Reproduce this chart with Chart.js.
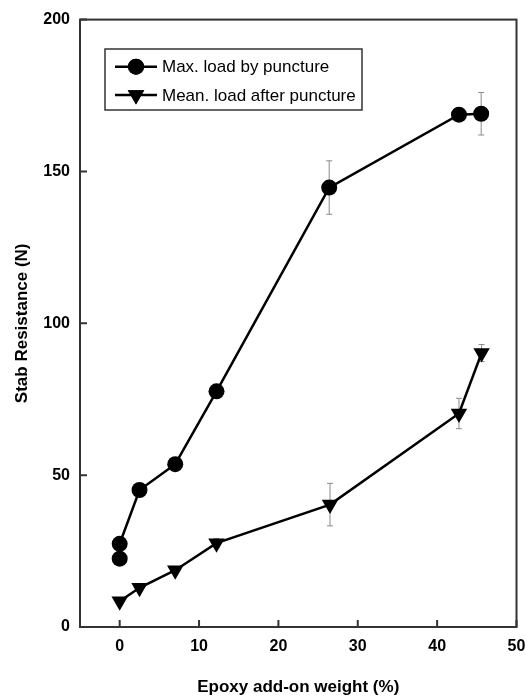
<!DOCTYPE html>
<html>
<head>
<meta charset="utf-8">
<script src="https://cdn.jsdelivr.net/npm/chart.js@4.4.1/dist/chart.umd.min.js"></script>
<style>
  html, body { margin: 0; padding: 0; background: #fff; overflow: hidden; }
  canvas { display: block; }
</style>
</head>
<body>
<canvas id="stabChart" width="526" height="698"></canvas>
<script>
// values
const maxLoadX = [0, 0, 2.5, 7.0, 12.2, 26.4, 42.75, 45.55];
const maxLoadY = [22.5, 27.4, 45.1, 53.6, 77.6, 144.7, 168.7, 169.0];
const maxLoadErr = [1, 1, 1, 1, 1.5, 8.8, 1.5, 7.0];

const afterX = [0, 2.5, 7.0, 12.2, 26.5, 42.75, 45.6];
const afterY = [8.5, 12.9, 18.7, 27.6, 40.3, 70.3, 90.2];
const afterErr = [1, 1, 1, 1.5, 7.0, 5.0, 2.8];

const xTicks = [0, 10, 20, 30, 40, 50];
const yTicks = [0, 50, 100, 150, 200];

const seriesNames = ['Max. load by puncture', 'Mean. load after puncture'];

const toPoints = (xs, ys) => xs.map((x, i) => ({x: x, y: ys[i]}));

// error bars behind the markers
const errorBars = {
    id: 'errorBars',
    beforeDatasetsDraw(chart) {
        const {ctx, scales: {x, y}} = chart;
        const errs = [maxLoadErr, afterErr];
        ctx.save();
        ctx.strokeStyle = '#8a8a8a';
        ctx.lineWidth = 1;
        chart.data.datasets.forEach((ds, d) => {
            ds.data.forEach((p, i) => {
                const e = errs[d][i];
                const px = x.getPixelForValue(p.x);
                const top = y.getPixelForValue(p.y + e);
                const bot = y.getPixelForValue(p.y - e);
                ctx.beginPath();
                ctx.moveTo(px, top); ctx.lineTo(px, bot);
                ctx.moveTo(px - 3, top); ctx.lineTo(px + 3, top);
                ctx.moveTo(px - 3, bot); ctx.lineTo(px + 3, bot);
                ctx.stroke();
            });
        });
        ctx.restore();
    }
};

// box frame, inward ticks and the boxed legend
const frameAndLegend = {
    id: 'frameAndLegend',
    afterDraw(chart) {
        const {ctx, chartArea: a, scales: {x, y}} = chart;
        ctx.save();
        ctx.strokeStyle = '#333';
        ctx.lineWidth = 2;
        ctx.strokeRect(a.left, a.top, a.right - a.left, a.bottom - a.top);
        ctx.beginPath();
        xTicks.forEach(v => {
            const px = x.getPixelForValue(v);
            ctx.moveTo(px, a.bottom); ctx.lineTo(px, a.bottom - 7);
        });
        yTicks.forEach(v => {
            const py = y.getPixelForValue(v);
            ctx.moveTo(a.left, py); ctx.lineTo(a.left + 7, py);
        });
        ctx.stroke();

        // legend
        const lx = 105, ly = 49, lw = 257, lh = 61;
        ctx.lineWidth = 1.5;
        ctx.strokeStyle = '#333';
        ctx.strokeRect(lx, ly, lw, lh);
        const rows = [66.7, 95];
        ctx.font = '17px "Liberation Sans", Arial, sans-serif';
        ctx.textBaseline = 'middle';
        ctx.fillStyle = '#000';
        chart.data.datasets.forEach((ds, i) => {
            const ry = rows[i];
            ctx.strokeStyle = '#000';
            ctx.lineWidth = 2.5;
            ctx.beginPath();
            ctx.moveTo(115, ry); ctx.lineTo(157, ry);
            ctx.stroke();
            Chart.helpers.drawPoint(ctx, {
                pointStyle: ds.pointStyle,
                radius: ds.pointRadius,
                rotation: ds.pointRotation || 0,
                borderWidth: 0
            }, 136, ry);
            ctx.fillStyle = '#000';
            ctx.fill();
            ctx.fillText(seriesNames[i], 162, ry + 1);
        });
        ctx.restore();
    }
};

const ctx = document.getElementById('stabChart').getContext('2d');
new Chart(ctx, {
    type: 'scatter',
    data: {
        datasets: [
            {
                label: seriesNames[0],
                data: toPoints(maxLoadX, maxLoadY),
                showLine: true,
                borderColor: '#000',
                borderWidth: 2.5,
                backgroundColor: '#000',
                pointStyle: 'circle',
                pointRadius: 8,
                pointBorderWidth: 0,
                pointBackgroundColor: '#000'
            },
            {
                label: seriesNames[1],
                data: toPoints(afterX, afterY),
                showLine: true,
                borderColor: '#000',
                borderWidth: 2.5,
                backgroundColor: '#000',
                pointStyle: 'triangle',
                pointRotation: 180,
                pointRadius: 9.5,
                pointBorderWidth: 0,
                pointBackgroundColor: '#000'
            }
        ]
    },
    options: {
        responsive: false,
        animation: false,
        devicePixelRatio: 1,
        layout: { padding: { top: 16, right: 9, left: 0, bottom: 0 } },
        plugins: {
            legend: { display: false },
            tooltip: { enabled: false }
        },
        scales: {
            x: {
                type: 'linear',
                min: -5,
                max: 50,
                afterBuildTicks: s => { s.ticks = xTicks.map(v => ({value: v})); },
                // let the last label run off the edge like the original
                afterFit: s => { s.height = 71; s.paddingRight = 0; s.paddingLeft = 0; },
                grid: { display: false, drawTicks: false },
                border: { display: false },
                ticks: {
                    color: '#000',
                    padding: 10,
                    maxRotation: 0,
                    font: { family: '"Liberation Sans", Arial, sans-serif', size: 16, weight: 'bold' }
                },
                title: {
                    display: true,
                    text: 'Epoxy add-on weight (%)',
                    color: '#000',
                    padding: { top: 0, bottom: 0 },
                    font: { family: '"Liberation Sans", Arial, sans-serif', size: 17, weight: 'bold' }
                }
            },
            y: {
                type: 'linear',
                min: 0,
                max: 200,
                afterBuildTicks: s => { s.ticks = yTicks.map(v => ({value: v})); },
                afterFit: s => { s.width = 80; },
                grid: { display: false, drawTicks: false },
                border: { display: false },
                ticks: {
                    color: '#000',
                    padding: 10,
                    font: { family: '"Liberation Sans", Arial, sans-serif', size: 16, weight: 'bold' }
                },
                title: {
                    display: true,
                    text: 'Stab Resistance (N)',
                    color: '#000',
                    padding: { top: 12, bottom: 0 },
                    font: { family: '"Liberation Sans", Arial, sans-serif', size: 17, weight: 'bold' }
                }
            }
        }
    },
    plugins: [errorBars, frameAndLegend]
});
</script>
</body>
</html>
